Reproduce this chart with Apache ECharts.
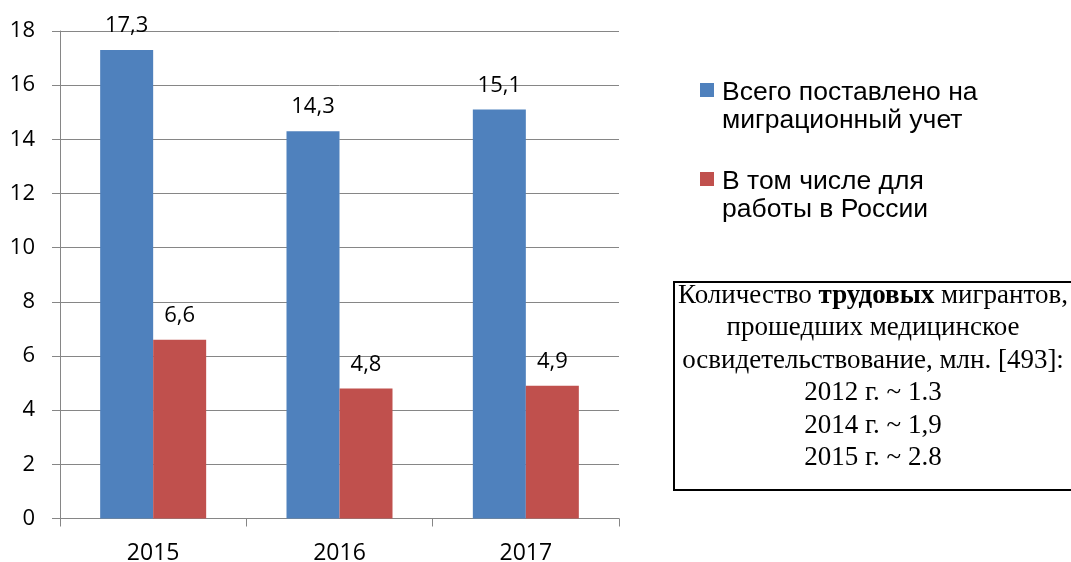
<!DOCTYPE html>
<html>
<head>
<meta charset="utf-8">
<script src="https://cdn.jsdelivr.net/npm/echarts@6/dist/echarts.min.js"></script>
<style>
html,body{margin:0;padding:0;background:#fff;}
#main{width:1071px;height:562px;}
</style>
</head>
<body>
<div id="main"></div>
<script>
const categories = ['2015', '2016', '2017'];
const seriesNames = ['Всего поставлено на\nмиграционный учет', 'В том числе для\nработы в России'];
const seriesColors = ['#4F81BD', '#C0504D'];
const totalValues = [17.3, 14.3, 15.1];
const workValues = [6.6, 4.8, 4.9];
const yTicks = { min: 0, max: 18, interval: 2 };
const noteLines = [
  ['Количество ', 'трудовых', ' мигрантов,'],
  'прошедших медицинское',
  'освидетельствование, млн. [493]:',
  '2012 г. ~ 1.3',
  '2014 г. ~ 1,9',
  '2015 г. ~ 2.8'
];

const labelFont = 'Open Sans';
const gray = '#868686';
const chart = echarts.init(document.getElementById('main'), null, { renderer: 'canvas' });

const noteText = noteLines.map(l => Array.isArray(l) ? (l[0] + '{b|' + l[1] + '}' + l[2]) : l).join('\n');

const dataLabel = {
  show: true,
  position: 'top',
  distance: 13,
  color: '#000',
  fontFamily: labelFont,
  fontSize: 22,
  formatter: p => String(p.value).replace('.', ',')
};

// legend drawn as graphic so the marker aligns with the first text line
const legendTops = [83, 172];
const legendGraphics = [];
seriesNames.forEach((name, i) => {
  legendGraphics.push({
    type: 'rect',
    shape: { x: 700, y: legendTops[i], width: 14, height: 14 },
    style: { fill: seriesColors[i] }
  });
  legendGraphics.push({
    type: 'text',
    x: 722,
    y: legendTops[i] - 5,
    style: {
      text: name,
      fill: '#000',
      fontFamily: 'Liberation Sans',
      fontSize: 26.5,
      lineHeight: 28.5,
      align: 'left',
      verticalAlign: 'top'
    }
  });
});

chart.setOption({
  animation: false,
  backgroundColor: '#fff',
  grid: { left: 60, right: 452, top: 31, bottom: 43.5, containLabel: false, outerBoundsMode: 'none' },
  xAxis: {
    type: 'category',
    data: categories,
    boundaryGap: true,
    axisLine: { lineStyle: { color: gray, width: 1 } },
    axisTick: { show: true, length: 8, inside: false, lineStyle: { color: gray } },
    axisLabel: { color: '#000', fontFamily: labelFont, fontSize: 23, margin: 23 }
  },
  yAxis: {
    type: 'value',
    min: yTicks.min, max: yTicks.max, interval: yTicks.interval,
    axisLine: { show: true, lineStyle: { color: gray, width: 1 } },
    axisTick: { show: true, length: 8, lineStyle: { color: gray } },
    splitLine: { show: true, lineStyle: { color: gray, width: 1 } },
    axisLabel: { color: '#000', fontFamily: labelFont, fontSize: 22, margin: 25 }
  },
  series: [
    {
      name: seriesNames[0], type: 'bar', data: totalValues,
      barWidth: 53, barGap: '0%',
      itemStyle: { color: seriesColors[0] },
      label: dataLabel
    },
    {
      name: seriesNames[1], type: 'bar', data: workValues,
      barWidth: 53, barGap: '0%',
      itemStyle: { color: seriesColors[1] },
      label: dataLabel
    }
  ],
  graphic: legendGraphics.concat([
    {
      type: 'rect',
      shape: { x: 674, y: 282, width: 410, height: 208 },
      style: { fill: '#fff', stroke: '#000', lineWidth: 2 },
      z: 10
    },
    {
      type: 'text',
      x: 873,
      y: 377,
      z: 11,
      style: {
        text: noteText,
        fill: '#000',
        fontFamily: 'Liberation Serif',
        fontSize: 27,
        lineHeight: 32.4,
        align: 'center',
        verticalAlign: 'middle',
        rich: {
          b: { fontFamily: 'Liberation Serif', fontSize: 27, fontWeight: 'bold', lineHeight: 32.4 }
        }
      }
    }
  ])
});
</script>
</body>
</html>
